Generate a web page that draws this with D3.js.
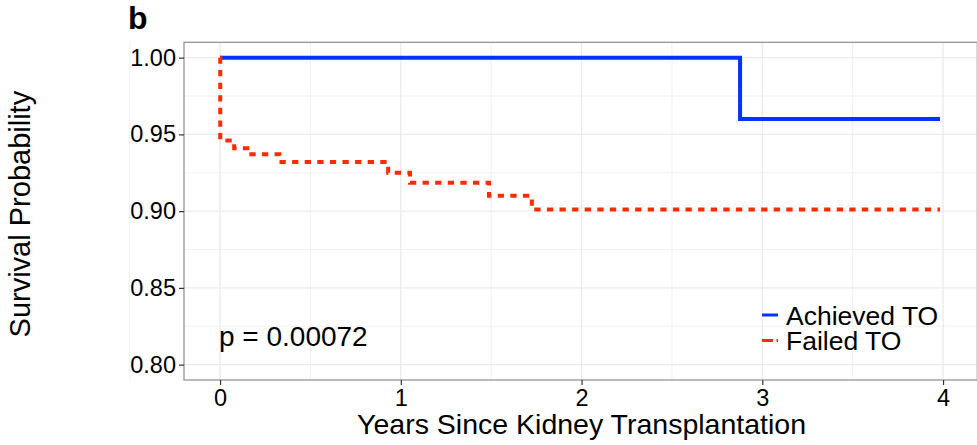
<!DOCTYPE html>
<html>
<head>
<meta charset="utf-8">
<script src="https://cdn.jsdelivr.net/npm/d3@7"></script>
<style>
  body { margin: 0; background: #fff; }
  svg { display: block; font-family: "Liberation Sans", Arial, sans-serif; }
</style>
</head>
<body>
<div id="chart"></div>
<script>
// step points: years, survival
const achievedTimes = [0, 2.877, 3.983];
const achievedSurv  = [1.00, 0.960, 0.960];
const failedTimes = [0, 0.001, 0.078, 0.151, 0.328, 0.93, 1.051, 1.488, 1.725, 3.983];
const failedSurv  = [1.00, 0.946, 0.941, 0.937, 0.932, 0.925, 0.9185, 0.910, 0.901, 0.901];

const xTicks = [0, 1, 2, 3, 4];
const yTicks = [0.80, 0.85, 0.90, 0.95, 1.00];
const legendLabels = ["Achieved TO", "Failed TO"];
const pText = "p = 0.00072";

const width = 977, height = 445;
const blue = "#0433ff", red = "#ff2a00";

const svg = d3.select("#chart").append("svg")
  .attr("width", width)
  .attr("height", height);

// panel runs past the right edge, as in the source picture
const x = d3.scaleLinear().domain([-0.1995, 4.1895]).range([184, 977.3]);
const y = d3.scaleLinear().domain([0.79, 1.01]).range([380, 42.3]);

const panel = svg.append("g");

// minor grid
const xMinor = [-0.5, 0.5, 1.5, 2.5, 3.5];
const yMinor = [0.825, 0.875, 0.925, 0.975];
panel.selectAll(".vminor").data(xMinor).enter().append("line")
  .attr("x1", d => x(d)).attr("x2", d => x(d))
  .attr("y1", y.range()[0]).attr("y2", y.range()[1])
  .attr("stroke", "#ebebeb").attr("stroke-width", 0.7);
panel.selectAll(".hminor").data(yMinor).enter().append("line")
  .attr("x1", x.range()[0]).attr("x2", x.range()[1])
  .attr("y1", d => y(d)).attr("y2", d => y(d))
  .attr("stroke", "#ebebeb").attr("stroke-width", 0.7);

// major grid
panel.selectAll(".vmajor").data(xTicks).enter().append("line")
  .attr("x1", d => x(d)).attr("x2", d => x(d))
  .attr("y1", y.range()[0]).attr("y2", y.range()[1])
  .attr("stroke", "#ebebeb").attr("stroke-width", 1.3);
panel.selectAll(".hmajor").data(yTicks).enter().append("line")
  .attr("x1", x.range()[0]).attr("x2", x.range()[1])
  .attr("y1", d => y(d)).attr("y2", d => y(d))
  .attr("stroke", "#ebebeb").attr("stroke-width", 1.3);

// curves
const line = d3.line()
  .x(d => x(d[0]))
  .y(d => y(d[1]))
  .curve(d3.curveStepAfter);

svg.append("path")
  .datum(d3.zip(achievedTimes, achievedSurv))
  .attr("d", line)
  .attr("fill", "none")
  .attr("stroke", blue)
  .attr("stroke-width", 4);

svg.append("path")
  .datum(d3.zip(failedTimes, failedSurv))
  .attr("d", line)
  .attr("fill", "none")
  .attr("stroke", red)
  .attr("stroke-width", 4)
  .attr("stroke-dasharray", "6.3,6.3");

// border
svg.append("rect")
  .attr("x", x.range()[0]).attr("y", y.range()[1])
  .attr("width", x.range()[1] - x.range()[0])
  .attr("height", y.range()[0] - y.range()[1])
  .attr("fill", "none")
  .attr("stroke", "#8c8c8c")
  .attr("stroke-width", 1.2);

// axes
const xAxis = svg.append("g")
  .attr("transform", "translate(0," + y.range()[0] + ")")
  .call(d3.axisBottom(x).tickValues(xTicks).tickSize(5).tickPadding(4).tickFormat(d3.format("d")));
const yAxis = svg.append("g")
  .attr("transform", "translate(" + x.range()[0] + ",0)")
  .call(d3.axisLeft(y).tickValues(yTicks).tickSize(5).tickPadding(3).tickFormat(d3.format(".2f")));

[xAxis, yAxis].forEach(a => {
  a.select(".domain").remove();
  a.selectAll(".tick line").attr("stroke", "#333").attr("stroke-width", 1.2);
  a.selectAll(".tick text")
    .attr("fill", "#000")
    .style("font-size", "23.5px")
    .style("font-family", "'Liberation Sans', Arial, sans-serif");
});

// axis titles
svg.append("text")
  .attr("x", (x(0) + x(4)) / 2)
  .attr("y", 434)
  .attr("text-anchor", "middle")
  .style("font-size", "28.5px")
  .text("Years Since Kidney Transplantation");

svg.append("text")
  .attr("transform", "translate(30," + ((y.range()[0] + y.range()[1]) / 2 + 3) + ") rotate(-90)")
  .attr("text-anchor", "middle")
  .style("font-size", "29px")
  .text("Survival Probability");

// panel tag
svg.append("text")
  .attr("x", 128)
  .attr("y", 29)
  .style("font-size", "32px")
  .style("font-weight", "bold")
  .text("b");

// p value
svg.append("text")
  .attr("x", 219)
  .attr("y", 346)
  .style("font-size", "28px")
  .text(pText);

// legend
const legend = svg.append("g");
const legendColors = [blue, red];
const legendDash = [null, "11,3.5"];
legendLabels.forEach((lab, i) => {
  const ly = 315 + i * 25.5;
  legend.append("line")
    .attr("x1", 762).attr("x2", 778)
    .attr("y1", ly).attr("y2", ly)
    .attr("stroke", legendColors[i])
    .attr("stroke-width", 3)
    .attr("stroke-dasharray", legendDash[i]);
  legend.append("text")
    .attr("x", 786)
    .attr("y", ly + 9.5)
    .style("font-size", "26.5px")
    .text(lab);
});
</script>
</body>
</html>
